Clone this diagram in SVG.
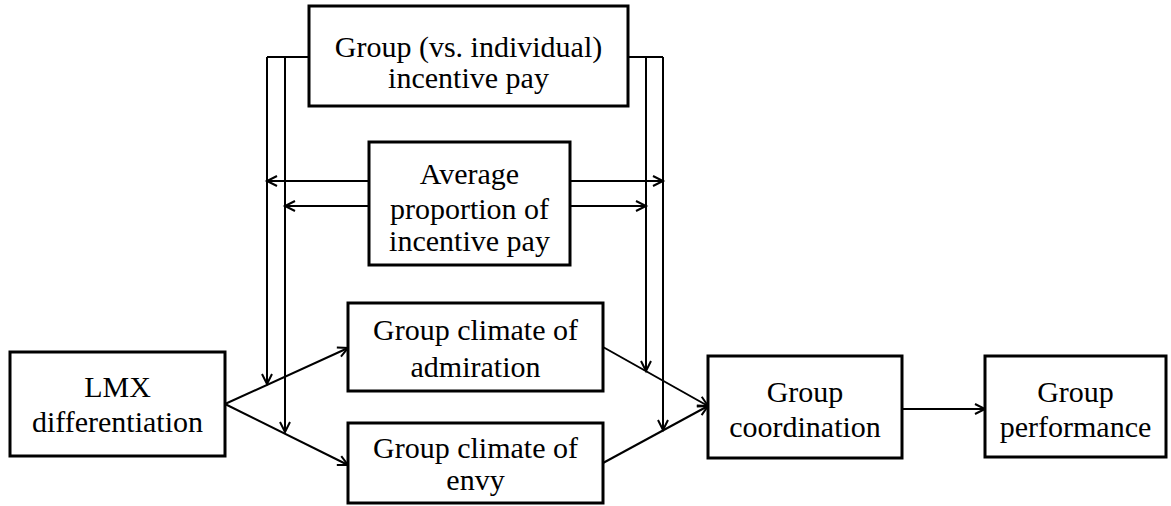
<svg xmlns="http://www.w3.org/2000/svg" width="1171" height="506" viewBox="0 0 1171 506">
<defs>
<marker id="arr" markerUnits="userSpaceOnUse" markerWidth="14" markerHeight="14" refX="11" refY="6" orient="auto" viewBox="0 0 14 12">
<path d="M1,1 L11,6 L1,11" fill="none" stroke="#000" stroke-width="2"/>
</marker>
</defs>
<style>
.box{fill:#fff;stroke:#000;stroke-width:3}
.t{font-family:"Liberation Serif","Times New Roman",serif;font-size:30px;fill:#000;text-anchor:middle}
.c{fill:none;stroke:#000;stroke-width:2}
.a{marker-end:url(#arr)}
</style>
<rect width="1171" height="506" fill="#fff"/>
<g id="connectors">
<polyline class="c" points="309,57 267,57"/>
<polyline class="c a" points="267,57 267,384"/>
<polyline class="c a" points="285,57 285,432"/>
<polyline class="c" points="628,57 663,57"/>
<polyline class="c a" points="646,57 646,371"/>
<polyline class="c a" points="663,57 663,430"/>
<line class="c a" x1="369" y1="181" x2="267" y2="181"/>
<line class="c a" x1="369" y1="206" x2="285" y2="206"/>
<line class="c a" x1="570" y1="181" x2="663" y2="181"/>
<line class="c a" x1="570" y1="206" x2="646" y2="206"/>
<line class="c a" x1="225" y1="404" x2="348" y2="348"/>
<line class="c a" x1="225" y1="404" x2="348" y2="465"/>
<line class="c a" x1="603" y1="347" x2="708" y2="406"/>
<line class="c a" x1="603" y1="463" x2="708" y2="406"/>
<line class="c a" x1="902" y1="409" x2="985" y2="409"/>
</g>
<g id="group-incentive">
<rect class="box" x="309" y="6" width="319" height="100"/>
<text class="t" x="468.5" y="57">Group (vs. individual)</text>
<text class="t" x="468.5" y="88">incentive pay</text>
</g>
<g id="average-proportion">
<rect class="box" x="369" y="142" width="201" height="123"/>
<text class="t" x="469.5" y="184">Average</text>
<text class="t" x="469.5" y="219">proportion of</text>
<text class="t" x="469.5" y="251">incentive pay</text>
</g>
<g id="lmx">
<rect class="box" x="10" y="352" width="215" height="104"/>
<text class="t" x="117.5" y="397">LMX</text>
<text class="t" x="117.5" y="432">differentiation</text>
</g>
<g id="admiration">
<rect class="box" x="348" y="303" width="255" height="88"/>
<text class="t" x="475.5" y="340">Group climate of</text>
<text class="t" x="475.5" y="377">admiration</text>
</g>
<g id="envy">
<rect class="box" x="348" y="423" width="255" height="80"/>
<text class="t" x="475.5" y="458">Group climate of</text>
<text class="t" x="475.5" y="490">envy</text>
</g>
<g id="coordination">
<rect class="box" x="708" y="356" width="194" height="102"/>
<text class="t" x="805" y="402">Group</text>
<text class="t" x="805" y="437">coordination</text>
</g>
<g id="performance">
<rect class="box" x="985" y="356" width="181" height="101"/>
<text class="t" x="1075.5" y="402">Group</text>
<text class="t" x="1075.5" y="437">performance</text>
</g>
</svg>
